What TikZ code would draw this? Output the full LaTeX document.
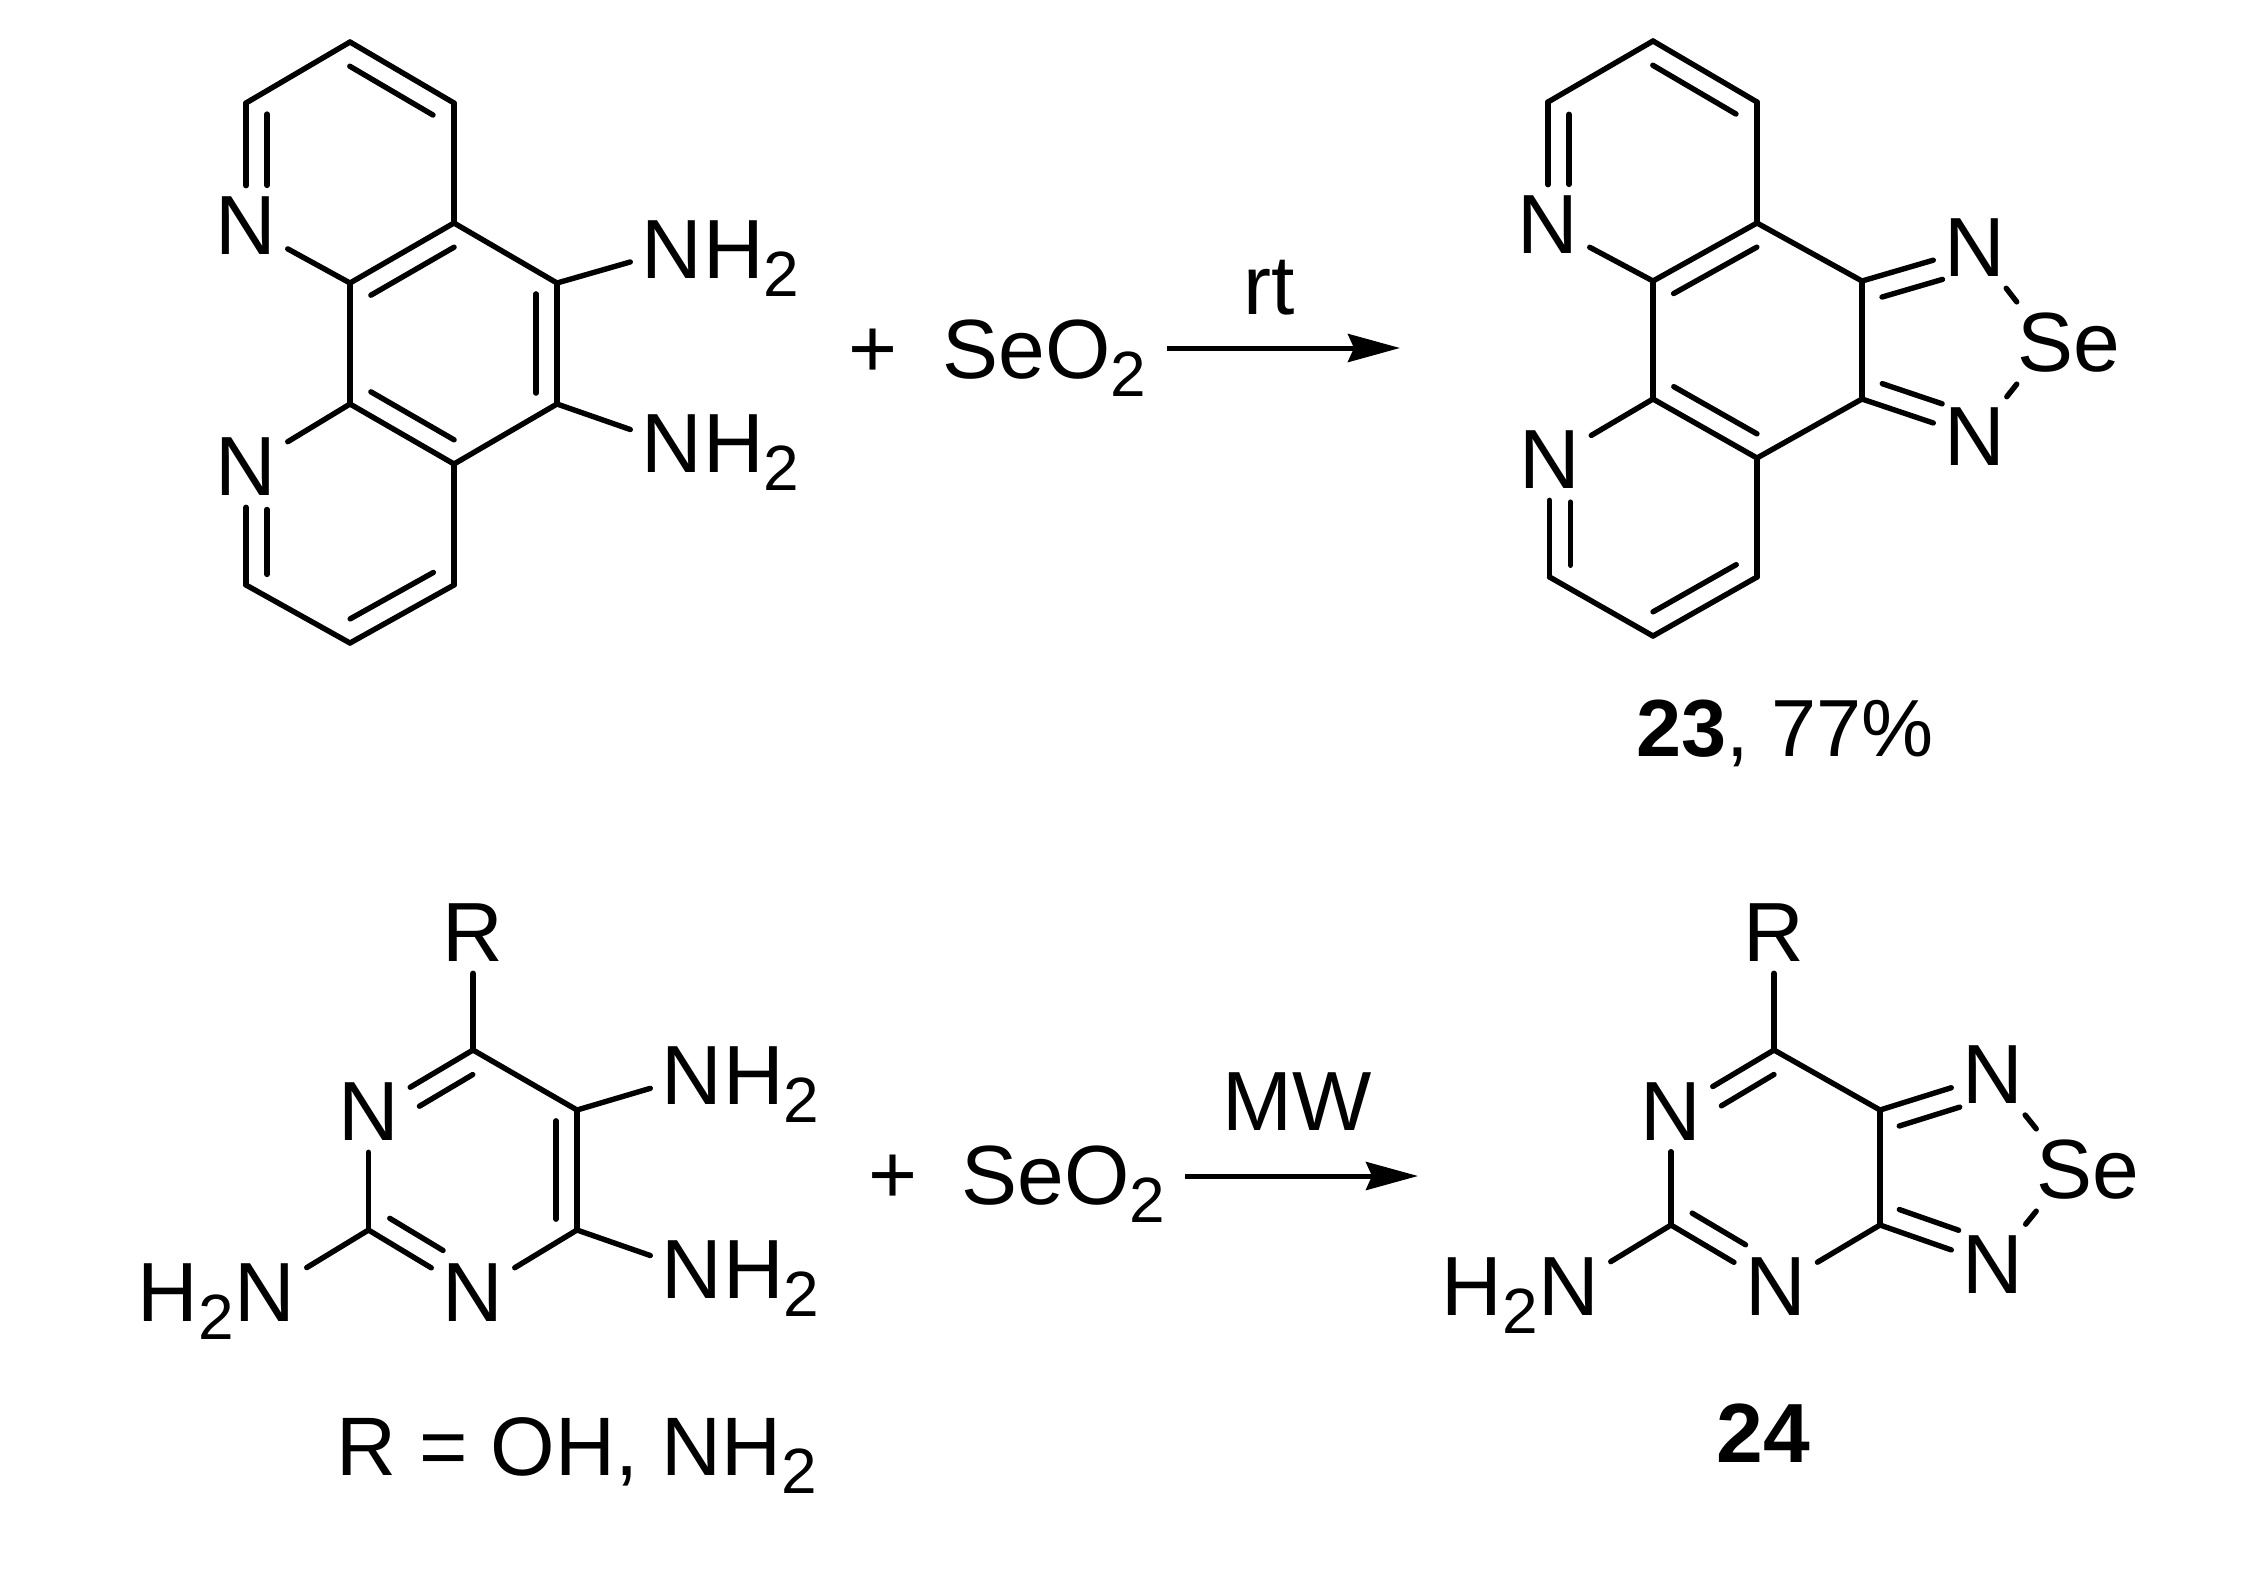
\documentclass[tikz,border=0pt]{standalone}
\usepackage{fontspec}
\setmainfont{Liberation Sans}
\usetikzlibrary{positioning}
\usetikzlibrary{calc}
\usetikzlibrary{arrows.meta}

\newcommand{\lowtwo}{\raisebox{-9pt}{\fontsize{32}{32}\selectfont 2}}
% second line of a double bond, on the left of the way from #1 to #2
\newcommand{\inbond}[4]{\draw[bond] ($(#1)!#3!(#2)!10.5pt!90:(#2)$) -- ($(#1)!#4!(#2)!10.5pt!90:(#2)$);}

\begin{document}
\begin{tikzpicture}[x=0.5pt, y=-0.5pt,
    every node/.style={font=\fontsize{42}{50}\selectfont},
    bond/.style={line width=2.7pt, line cap=round, line join=round},
    atom/.style={inner sep=5.5pt},
    selen/.style={inner xsep=0pt, inner ysep=5.5pt},
    rest/.style={inner sep=0pt},
    txt/.style={inner sep=0pt, anchor=base west},
    react/.style={line width=2.5pt, -{Stealth[length=26pt, width=14pt, inset=3pt]}}]
    \useasboundingbox (0,0) rectangle (2245,1576);

    % first reactant
    \coordinate (a1) at (350,42);
    \coordinate (a2) at (454,103);
    \coordinate (a3) at (454,223);
    \coordinate (a4) at (350,283);
    \coordinate (a5) at (557,283);
    \coordinate (a6) at (557,404);
    \coordinate (a7) at (350,404);
    \coordinate (a8) at (454,464);
    \coordinate (a9) at (454,585);
    \coordinate (a10) at (350,643);
    \coordinate (a11) at (246,585);
    \coordinate (a12) at (246,103);
    \node[atom] (aN1) at (246,226) {N};
    \node[atom] (aN2) at (246,467) {N};
    \node[atom] (aN3) at (672,250) {N};
    \node[atom] (aN4) at (672,444) {N};
    \node[rest] (aH3) [base right=-5.5pt of aN3] {H\lowtwo};
    \node[rest] (aH4) [base right=-5.5pt of aN4] {H\lowtwo};

    \draw[bond] (a12) -- (a1);
    \draw[bond] (a1) -- (a2);
    \draw[bond] (a2) -- (a3);
    \draw[bond] (a3) -- (a4);
    \draw[bond] (a3) -- (a5);
    \draw[bond] (a5) -- (a6);
    \draw[bond] (a6) -- (a8);
    \draw[bond] (a8) -- (a7);
    \draw[bond] (a7) -- (a4);
    \draw[bond] (a8) -- (a9);
    \draw[bond] (a9) -- (a10);
    \draw[bond] (a10) -- (a11);
    \draw[bond] (a12) -- (aN1);
    \draw[bond] (a11) -- (aN2);
    \draw[bond] (a4) -- (aN1);
    \draw[bond] (a7) -- (aN2);
    \draw[bond] (a5) -- (aN3);
    \draw[bond] (a6) -- (aN4);
    \inbond{a2}{a1}{.1}{.9}
    \inbond{a3}{a4}{.1}{.9}
    \inbond{a6}{a5}{.09}{.91}
    \inbond{a7}{a8}{.1}{.9}
    \inbond{a10}{a9}{.1}{.9}
    \inbond{a12}{aN1}{.09}{.67}
    \inbond{aN2}{a11}{.36}{.91}

    \node[atom] (plusa) at (873,353) {+};
    \node[txt] (seoa) at (942,378) {SeO\lowtwo};
    \coordinate (arrowa1) at (1167,348);
    \coordinate (arrowa2) at (1400,348);
    \draw[react] (arrowa1) -- (arrowa2) node[pos=.44, above=15pt, inner sep=0pt] (rt) {rt};

    % first product
    \coordinate (b1) at (1653,41);
    \coordinate (b2) at (1757,102);
    \coordinate (b3) at (1757,223);
    \coordinate (b4) at (1653,281);
    \coordinate (b5) at (1862,281);
    \coordinate (b6) at (1862,399);
    \coordinate (b7) at (1653,399);
    \coordinate (b8) at (1757,458);
    \coordinate (b9) at (1757,577);
    \coordinate (b10) at (1653,636);
    \coordinate (b11) at (1549.5,577);
    \coordinate (b12) at (1548,102);
    \node[atom] (bN1) at (1548,225) {N};
    \node[atom] (bN2) at (1549.5,460) {N};
    \node[atom] (bN3) at (1975,248) {N};
    \node[atom] (bN4) at (1975,437) {N};
    \node[selen] (bSe) at (2068.5,343) {Se};

    \draw[bond] (b12) -- (b1);
    \draw[bond] (b1) -- (b2);
    \draw[bond] (b2) -- (b3);
    \draw[bond] (b3) -- (b4);
    \draw[bond] (b3) -- (b5);
    \draw[bond] (b5) -- (b6);
    \draw[bond] (b6) -- (b8);
    \draw[bond] (b8) -- (b7);
    \draw[bond] (b7) -- (b4);
    \draw[bond] (b8) -- (b9);
    \draw[bond] (b9) -- (b10);
    \draw[bond] (b10) -- (b11);
    \draw[bond] (b12) -- (bN1);
    \draw[bond] (b11) -- (bN2);
    \draw[bond] (b4) -- (bN1);
    \draw[bond] (b7) -- (bN2);
    \draw[bond] (b5) -- (bN3);
    \draw[bond] (b6) -- (bN4);
    \draw[bond] (bN3) -- (bSe.north west);
    \draw[bond] (bN4) -- (bSe.south west);
    \inbond{b2}{b1}{.1}{.9}
    \inbond{b3}{b4}{.1}{.9}
    \inbond{b7}{b8}{.1}{.9}
    \inbond{b10}{b9}{.1}{.9}
    \inbond{b12}{bN1}{.1}{.67}
    \inbond{bN2}{b11}{.36}{.9}
    \inbond{bN3}{b5}{.34}{.875}
    \inbond{b6}{bN4}{.12}{.65}

    \node[txt, font=\fontsize{40.5}{50}\selectfont] (yield) at (1636,756) {\textbf{23}, 77\%};

    % second reactant
    \coordinate (c1) at (473,1050);
    \coordinate (c2) at (577,1110);
    \coordinate (c3) at (577,1230);
    \coordinate (c4) at (368.5,1230);
    \node[atom] (cR) at (473,933) {R};
    \node[atom] (cN1) at (368.5,1112) {N};
    \node[atom] (cN2) at (473,1293) {N};
    \node[atom] (cN3) at (265,1293) {N};
    \node[atom] (cN4) at (692,1076) {N};
    \node[atom] (cN5) at (692,1270) {N};
    \node[rest] (cH3) [base left=-5.5pt of cN3] {H\lowtwo};
    \node[rest] (cH4) [base right=-5.5pt of cN4] {H\lowtwo};
    \node[rest] (cH5) [base right=-5.5pt of cN5] {H\lowtwo};

    \draw[bond] (cR) -- (c1);
    \draw[bond] (c1) -- (c2);
    \draw[bond] (c2) -- (c3);
    \draw[bond] (c1) -- (cN1);
    \draw[bond] (cN1) -- (c4);
    \draw[bond] (c4) -- (cN2);
    \draw[bond] (cN2) -- (c3);
    \draw[bond] (c4) -- (cN3);
    \draw[bond] (c2) -- (cN4);
    \draw[bond] (c3) -- (cN5);
    \inbond{c1}{cN1}{.105}{.615}
    \inbond{c4}{cN2}{.1}{.61}
    \inbond{c3}{c2}{.09}{.91}

    \node[txt, font=\fontsize{41.5}{50}\selectfont] (rlist) at (336,1475.5) {R = OH, NH\lowtwo};
    \node[atom] (plusb) at (892.6,1179) {+};
    \node[txt] (seob) at (961,1204) {SeO\lowtwo};
    \coordinate (arrowb1) at (1185,1176);
    \coordinate (arrowb2) at (1418,1176);
    \draw[react] (arrowb1) -- (arrowb2) node[pos=.483, above=21.5pt, inner sep=0pt] (mw) {MW};

    % second product
    \coordinate (d1) at (1774,1050);
    \coordinate (d2) at (1880,1110);
    \coordinate (d3) at (1880,1225);
    \coordinate (d4) at (1671,1225);
    \node[atom] (dR) at (1774,933) {R};
    \node[atom] (dN1) at (1671,1111.4) {N};
    \node[atom] (dN2) at (1775.7,1287) {N};
    \node[atom] (dN3) at (1569,1287) {N};
    \node[atom] (dN4) at (1993,1074.7) {N};
    \node[atom] (dN5) at (1993,1264.5) {N};
    \node[selen] (dSe) at (2088,1170) {Se};
    \node[rest] (dH3) [base left=-5.5pt of dN3] {H\lowtwo};

    \draw[bond] (dR) -- (d1);
    \draw[bond] (d1) -- (d2);
    \draw[bond] (d2) -- (d3);
    \draw[bond] (d1) -- (dN1);
    \draw[bond] (dN1) -- (d4);
    \draw[bond] (d4) -- (dN2);
    \draw[bond] (dN2) -- (d3);
    \draw[bond] (d4) -- (dN3);
    \draw[bond] (d2) -- (dN4);
    \draw[bond] (d3) -- (dN5);
    \draw[bond] (dN4) -- (dSe.north west);
    \draw[bond] (dN5) -- (dSe.south west);
    \inbond{d1}{dN1}{.105}{.615}
    \inbond{d4}{dN2}{.1}{.61}
    \inbond{dN4}{d2}{.35}{.885}
    \inbond{d3}{dN5}{.11}{.635}

    \node[txt, anchor=base] (num) at (1763.5,1462.5) {\textbf{24}};
\end{tikzpicture}
\end{document}
